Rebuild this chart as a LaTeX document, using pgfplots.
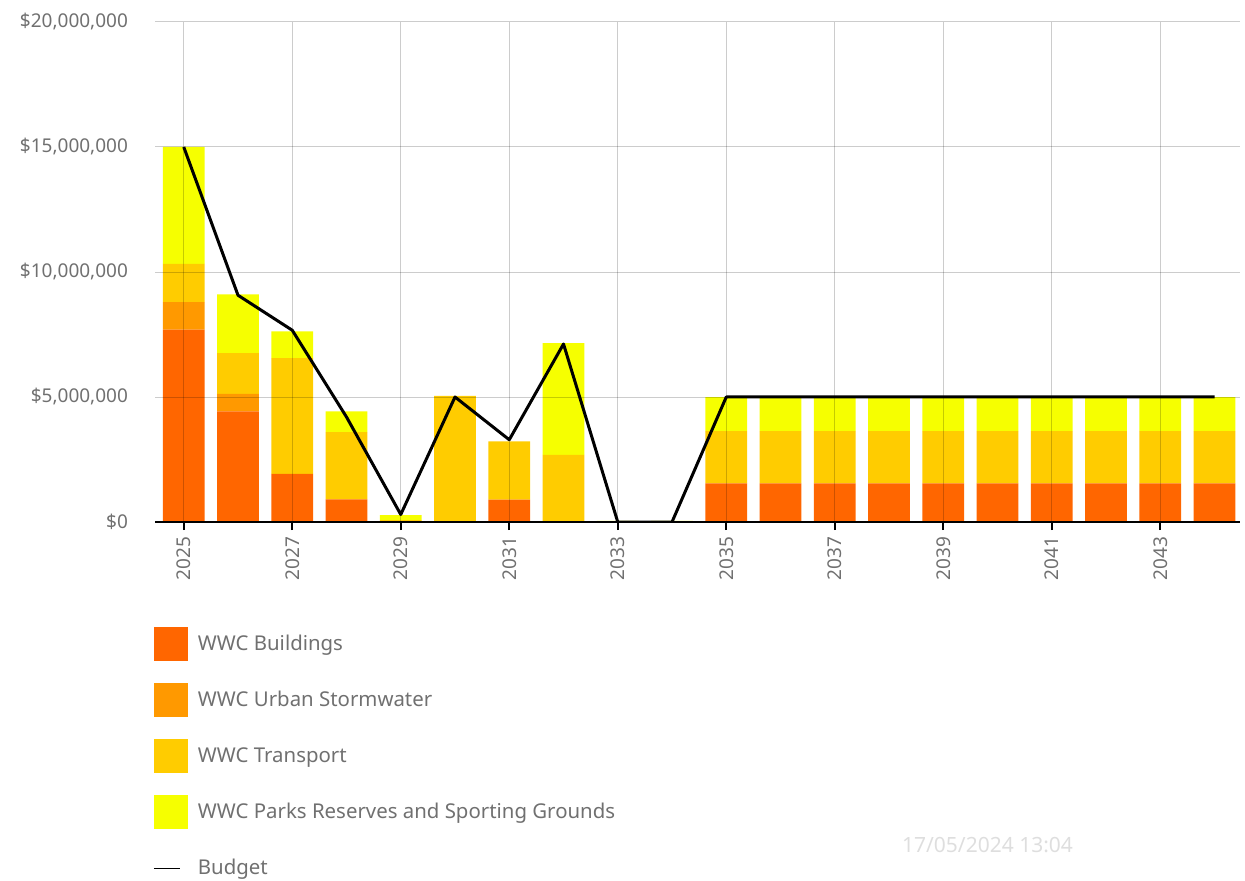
\documentclass[border=0pt]{standalone}
\usepackage{fontspec}
\setmainfont{Noto Sans}
\usepackage{pgfplots}
\pgfplotsset{compat=1.18}
\usepackage{pgfplotstable}

\definecolor{cBuild}{RGB}{255,102,0}
\definecolor{cStorm}{RGB}{255,153,0}
\definecolor{cTrans}{RGB}{255,204,0}
\definecolor{cParks}{RGB}{246,255,0}
\definecolor{txt}{RGB}{112,112,112}
\definecolor{stamp}{RGB}{222,222,222}

% Capital works by asset group, millions of dollars
\pgfplotstableread{
year build storm trans parks
2025 7.70 1.10 1.53 4.67
2026 4.43 0.70 1.63 2.35
2027 1.93 0.00 4.63 1.07
2028 0.91 0.00 2.69 0.83
2029 0.00 0.00 0.08 0.20
2030 0.00 0.00 5.05 0.00
2031 0.90 0.00 2.33 0.00
2032 0.00 0.00 2.69 4.47
2033 0.00 0.00 0.00 0.05
2034 0.00 0.00 0.00 0.05
2035 1.55 0.00 2.09 1.36
2036 1.55 0.00 2.09 1.36
2037 1.55 0.00 2.09 1.36
2038 1.55 0.00 2.09 1.36
2039 1.55 0.00 2.09 1.36
2040 1.55 0.00 2.09 1.36
2041 1.55 0.00 2.09 1.36
2042 1.55 0.00 2.09 1.36
2043 1.55 0.00 2.09 1.36
2044 1.55 0.00 2.09 1.36
}\costs

% Budget, millions of dollars
\pgfplotstableread{
year budget
2025 15.00
2026 9.07
2027 7.67
2028 4.20
2029 0.30
2030 5.00
2031 3.29
2032 7.12
2033 0.00
2034 0.00
2035 5.00
2036 5.00
2037 5.00
2038 5.00
2039 5.00
2040 5.00
2041 5.00
2042 5.00
2043 5.00
2044 5.00
}\budget

\pgfplotsset{
  plotframe/.style={
    at={(77.5pt,-261pt)}, anchor=south west,
    scale only axis, width=542.5pt, height=250pt,
    xmin=2024.47, xmax=2044.47, ymin=0, ymax=20,
  },
  box key/.style={legend image code/.code={\fill[##1] (0pt,-8.5pt) rectangle (17pt,8.5pt);}},
  budget key/.style={legend image code/.code={\path[draw=none,fill=none] (0pt,-8.5pt) rectangle (17pt,8.5pt); \draw[##1] (0pt,0pt) -- (13pt,0pt);}},
}

\begin{document}
\begin{tikzpicture}
\path[use as bounding box] (0,0) rectangle (622.5pt,-440.5pt);
\begin{axis}[
  plotframe,
  ybar stacked, bar width=0.77,
  axis on top,
  axis x line*=bottom, axis y line*=left,
  y axis line style={draw=none},
  x axis line style={black, line width=1pt},
  xtick={2025,2027,...,2043},
  ytick={0,5,10,15,20},
  yticklabels={{\$0},{\$5,000,000},{\$10,000,000},{\$15,000,000},{\$20,000,000}},
  /pgf/number format/assume math mode=true,
  /pgf/number format/1000 sep={},
  tick align=outside, major tick length=4pt,
  xtick style={black, line width=0.8pt},
  ytick style={draw=none},
  xmajorgrids, ymajorgrids,
  grid style={black, opacity=0.2, line width=0.5pt},
  ticklabel style={font=\fontsize{9.5}{11}\selectfont, text=txt},
  xticklabel style={rotate=90, anchor=east},
  yticklabel style={xshift=-6pt},
  legend style={at={(axis description cs:-0.002,-0.21)}, anchor=north west,
    draw=none, fill=none, inner sep=0pt,
    font=\fontsize{10.2}{12}\selectfont, text=txt,
    row sep=11pt,
    /tikz/every odd column/.append style={column sep=3pt}},
  legend cell align=left,
]
\addplot[fill=cBuild, draw=none, box key] table[x=year,y=build]{\costs};
\addlegendentry{WWC Buildings}
\addplot[fill=cStorm, draw=none, box key] table[x=year,y=storm]{\costs};
\addlegendentry{WWC Urban Stormwater}
\addplot[fill=cTrans, draw=none, box key] table[x=year,y=trans]{\costs};
\addlegendentry{WWC Transport}
\addplot[fill=cParks, draw=none, box key] table[x=year,y=parks]{\costs};
\addlegendentry{WWC Parks Reserves and Sporting Grounds}
\addlegendimage{black, line width=0.7pt, budget key}
\addlegendentry{Budget}
\end{axis}
\begin{axis}[plotframe, hide axis]
\addplot[black, line width=1.5pt, line join=round] table[x=year,y=budget]{\budget};
\end{axis}
\node[text=stamp, font=\fontsize{10.5}{12}\selectfont] at (493.75pt,-422.5pt) {17/05/2024 13:04};
\end{tikzpicture}
\end{document}
